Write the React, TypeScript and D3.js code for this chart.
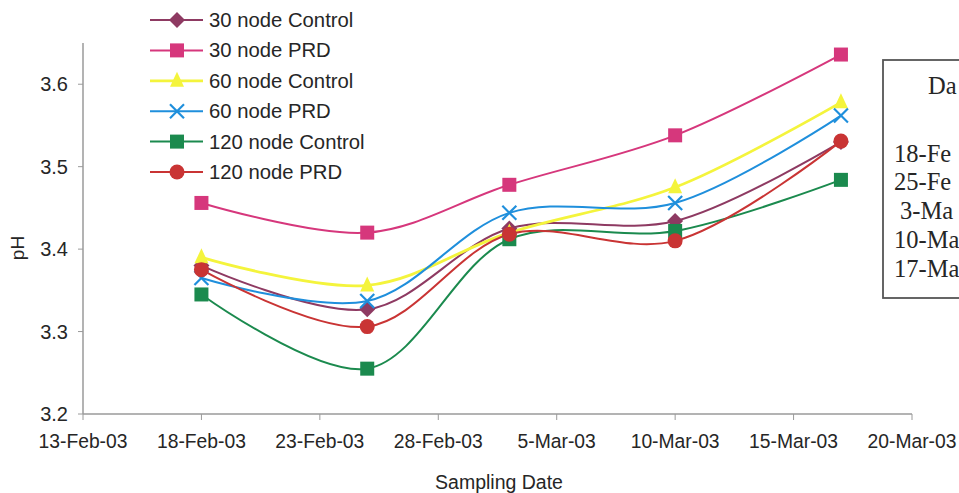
import React from "react";
import * as d3 from "d3";

const sampleDates = ["2003-02-18", "2003-02-25", "2003-03-03", "2003-03-10", "2003-03-17"];
const tickDates = ["2003-02-13", "2003-02-18", "2003-02-23", "2003-02-28", "2003-03-05", "2003-03-10", "2003-03-15", "2003-03-20"];
const tickLabels = ["13-Feb-03", "18-Feb-03", "23-Feb-03", "28-Feb-03", "5-Mar-03", "10-Mar-03", "15-Mar-03", "20-Mar-03"];
const yTicks = [3.2, 3.3, 3.4, 3.5, 3.6];

const node30Control = [3.38, 3.327, 3.425, 3.434, 3.53];
const node30PRD = [3.456, 3.42, 3.478, 3.538, 3.636];
const node60Control = [3.39, 3.356, 3.42, 3.475, 3.578];
const node60PRD = [3.365, 3.337, 3.444, 3.456, 3.562];
const node120Control = [3.345, 3.255, 3.412, 3.422, 3.484];
const node120PRD = [3.375, 3.306, 3.418, 3.41, 3.531];

const seriesNames = ["30 node Control", "30 node PRD", "60 node Control", "60 node PRD", "120 node Control", "120 node PRD"];
// the side table is cropped at the picture's right edge; only these parts are visible
const tableHeader = "Da";
const tableRows = ["18-Fe", "25-Fe", "3-Ma", "10-Ma", "17-Ma"];

const series = [
  { name: seriesNames[0], values: node30Control, color: "#8E3A62", marker: "diamond" },
  { name: seriesNames[1], values: node30PRD, color: "#D6377C", marker: "square" },
  { name: seriesNames[2], values: node60Control, color: "#F4F43C", marker: "triangle" },
  { name: seriesNames[3], values: node60PRD, color: "#1F8FDC", marker: "x" },
  { name: seriesNames[4], values: node120Control, color: "#1B8A4E", marker: "square" },
  { name: seriesNames[5], values: node120PRD, color: "#C93434", marker: "circle" },
];

const parse = d3.timeParse("%Y-%m-%d");

function Marker({ type, x, y, color }: { type: string; x: number; y: number; color: string }) {
  if (type === "square") return <rect x={x - 7} y={y - 7} width={14} height={14} fill={color} />;
  if (type === "circle") return <circle cx={x} cy={y} r={7.5} fill={color} />;
  if (type === "diamond") return <path d={`M${x},${y - 8}L${x + 8},${y}L${x},${y + 8}L${x - 8},${y}Z`} fill={color} />;
  if (type === "triangle") return <path d={`M${x},${y - 9}L${x + 7},${y + 6}L${x - 7},${y + 6}Z`} fill={color} />;
  return (
    <g stroke={color} strokeWidth={2.2}>
      <line x1={x - 7} y1={y - 7} x2={x + 7} y2={y + 7} />
      <line x1={x - 7} y1={y + 7} x2={x + 7} y2={y - 7} />
    </g>
  );
}

export default function App() {
  const W = 959, H = 493;
  const x = d3.scaleTime().domain([parse("2003-02-13")!, parse("2003-03-20")!]).range([83, 912]);
  const y = d3.scaleLinear().domain([3.2, 3.65]).range([414, 43]);
  const line = d3.line<[Date, number]>().x((d) => x(d[0])).y((d) => y(d[1])).curve(d3.curveCatmullRom.alpha(0.5));
  const dates = sampleDates.map((s) => parse(s)!);
  const font = "'Liberation Sans', Arial, sans-serif";
  const serif = "'Liberation Serif', 'Times New Roman', serif";
  const axisColor = "#9a9a9a";
  const textColor = "#262626";

  return (
    <svg width={W} height={H} style={{ position: "absolute", left: 0, top: 0, background: "#fff" }}>
      <rect width={W} height={H} fill="#fff" />
      {/* y axis */}
      <line x1={83} y1={43} x2={83} y2={414} stroke={axisColor} strokeWidth={1.5} />
      {yTicks.map((t) => (
        <g key={t}>
          <line x1={78} x2={83} y1={y(t)} y2={y(t)} stroke={axisColor} />
          <text x={68} y={y(t) + 7} textAnchor="end" fontFamily={font} fontSize={20} fill={textColor}>
            {t.toFixed(1)}
          </text>
        </g>
      ))}
      {/* x axis */}
      <line x1={83} y1={414} x2={912} y2={414} stroke={axisColor} strokeWidth={1.5} />
      {tickDates.map((t, i) => {
        const xp = x(parse(t)!);
        return (
          <g key={t}>
            <line x1={xp} x2={xp} y1={414} y2={420} stroke={axisColor} />
            <text x={xp} y={448} textAnchor="middle" fontFamily={font} fontSize={19.3} fill={textColor}>
              {tickLabels[i]}
            </text>
          </g>
        );
      })}
      <text x={499} y={489} textAnchor="middle" fontFamily={font} fontSize={19.5} fill={textColor}>
        Sampling Date
      </text>
      <text transform="translate(24,248) rotate(-90)" textAnchor="middle" fontFamily={font} fontSize={19} fill={textColor}>
        pH
      </text>

      {/* series */}
      {series.map((s) => (
        <path
          key={s.name + "l"}
          d={line(dates.map((d, i) => [d, s.values[i]] as [Date, number]))!}
          fill="none"
          stroke={s.color}
          strokeWidth={s.marker === "triangle" ? 2.8 : 2}
        />
      ))}
      {series.map((s) => (
        <g key={s.name + "m"}>
          {dates.map((d, i) => (
            <Marker key={i} type={s.marker} x={x(d)} y={y(s.values[i])} color={s.color} />
          ))}
        </g>
      ))}

      {/* legend */}
      {series.map((s, i) => {
        const ly = 20 + i * 30.4;
        return (
          <g key={s.name + "lg"}>
            <line x1={150} x2={203} y1={ly} y2={ly} stroke={s.color} strokeWidth={s.marker === "triangle" ? 2.8 : 2} />
            <Marker type={s.marker} x={177} y={ly} color={s.color} />
            <text x={209} y={ly + 7} fontFamily={font} fontSize={20.3} fill={textColor}>
              {s.name}
            </text>
          </g>
        );
      })}

      {/* side table (cropped by the picture's right edge) */}
      <rect x={883} y={60} width={120} height={238} fill="#fff" stroke="#555" strokeWidth={1.8} />
      <text x={928} y={94} fontFamily={serif} fontSize={24.5} fill={textColor}>
        {tableHeader}
      </text>
      {tableRows.map((r, i) => (
        <text
          key={r}
          x={r.startsWith("3-") ? 900 : 894}
          y={161.5 + i * 28.8}
          fontFamily={serif}
          fontSize={24.5}
          fill={textColor}
        >
          {r}
        </text>
      ))}
    </svg>
  );
}
